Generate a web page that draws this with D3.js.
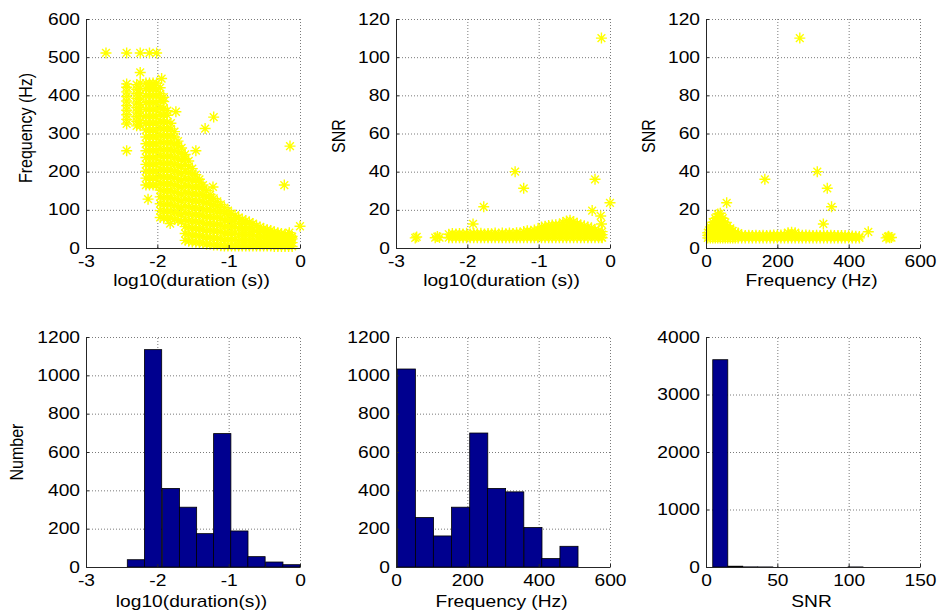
<!DOCTYPE html>
<html lang="en">
<head>
    <meta charset="UTF-8">
    <title>Duration / frequency / SNR</title>
    <script src="https://d3js.org/d3.v7.min.js"></script>
    <style>
        body { margin: 0; background: #fff; }
    </style>
</head>
<body>
    <div id="chart"></div>

    <script>
        // ---- data ----

        // axis ticks
        const durTicks = [-3, -2, -1, 0];
        const freqTicks = [0, 200, 400, 600];
        const snrXTicks = [0, 50, 100, 150];
        const freqYTicks = [0, 100, 200, 300, 400, 500, 600];
        const snrYTicks = [0, 20, 40, 60, 80, 100, 120];
        const countTicks = [0, 200, 400, 600, 800, 1000, 1200];
        const snrCountTicks = [0, 1000, 2000, 3000, 4000];

        // scatter 1: log10(duration) vs frequency, isolated points
        const durFreqOutliers = [[-2.72, 511], [-2.43, 511], [-2.24, 511], [-2.11, 511], [-2.01, 511],
            [-2.24, 460], [-1.94, 444], [-2.43, 255], [-2.13, 128], [-1.74, 357], [-1.33, 313],
            [-1.21, 343], [-1.46, 255], [-1.22, 160], [-1.82, 64], [-0.14, 267], [-0.22, 165],
            [0.0, 57], [-0.15, 40], [-0.12, 28]];
        // scatter 1: dense band, one column of frequencies per duration
        const durFreqCols = [
            [-2.43, [325, 337, 349, 361, 373, 385, 397, 409, 421, 430]],
            [-2.29, [320, 332, 344, 356, 368, 380, 392, 404, 416, 428]],
            [-2.24, [320, 334, 348, 362, 376, 390, 404, 418, 432]],
            [-2.16, [165, 183, 201, 219, 237, 255, 273, 291, 309, 327, 345, 363, 381, 399, 417, 432]],
            [-2.11, [165, 183, 201, 219, 237, 255, 273, 291, 309, 327, 345, 363, 381, 399, 417, 432]],
            [-2.06, [165, 183, 201, 219, 237, 255, 273, 291, 309, 327, 345, 363, 381, 399, 417, 432]],
            [-2.01, [165, 183, 201, 219, 237, 255, 273, 291, 309, 327, 345, 363, 381, 399, 417, 432]],
            [-1.96, [80, 98, 116, 134, 152, 170, 188, 206, 224, 242, 260, 278, 296, 314, 332, 350, 368, 386, 404, 420]],
            [-1.91, [78, 96, 114, 132, 150, 168, 186, 204, 222, 240, 258, 276, 294, 312, 330, 348, 366, 384, 395]],
            [-1.86, [78, 96, 114, 132, 150, 168, 186, 204, 222, 240, 258, 276, 294, 312, 330, 348, 360]],
            [-1.81, [78, 96, 114, 132, 150, 168, 186, 204, 222, 240, 258, 276, 294, 312, 327]],
            [-1.76, [75, 93, 111, 129, 147, 165, 183, 201, 219, 237, 255, 273, 291, 305]],
            [-1.71, [72, 90, 108, 126, 144, 162, 180, 198, 216, 234, 252, 268, 280]],
            [-1.66, [70, 88, 106, 124, 142, 160, 178, 196, 214, 232, 250, 262]],
            [-1.61, [20, 38, 56, 74, 92, 110, 128, 146, 164, 182, 200, 218, 234, 245]],
            [-1.56, [18, 36, 54, 72, 90, 108, 126, 144, 162, 180, 198, 214, 228]],
            [-1.51, [16, 34, 52, 70, 88, 106, 124, 142, 160, 178, 194, 208]],
            [-1.46, [15, 33, 51, 69, 87, 105, 123, 141, 159, 177, 192]],
            [-1.41, [14, 32, 50, 68, 86, 104, 122, 140, 158, 172, 180]],
            [-1.36, [12, 30, 48, 66, 84, 102, 120, 138, 154, 165]],
            [-1.31, [10, 28, 46, 64, 82, 100, 118, 134, 150]],
            [-1.26, [10, 28, 46, 64, 82, 100, 116, 130, 140]],
            [-1.21, [8, 26, 44, 62, 80, 98, 114, 130]],
            [-1.16, [8, 26, 44, 62, 80, 96, 110, 122]],
            [-1.11, [6, 24, 42, 60, 78, 96, 114]],
            [-1.06, [5, 22, 39, 56, 73, 90, 106]],
            [-1.01, [5, 22, 39, 56, 73, 88, 98]],
            [-0.96, [5, 22, 39, 56, 73, 90]],
            [-0.91, [5, 22, 39, 56, 73, 86]],
            [-0.86, [5, 20, 35, 50, 65, 80]],
            [-0.81, [5, 20, 35, 50, 65, 75]],
            [-0.76, [5, 20, 35, 50, 62, 72]],
            [-0.71, [5, 20, 35, 50, 68]],
            [-0.66, [5, 20, 35, 50, 64]],
            [-0.61, [5, 18, 31, 44, 58]],
            [-0.56, [5, 18, 31, 44, 55]],
            [-0.51, [5, 17, 29, 41, 51]],
            [-0.46, [5, 17, 29, 40, 48]],
            [-0.41, [5, 16, 27, 37, 46]],
            [-0.36, [4, 14, 24, 34, 42]],
            [-0.31, [4, 14, 24, 33, 40]],
            [-0.26, [4, 14, 24, 32, 38]],
            [-0.21, [4, 14, 24, 36]],
            [-0.16, [4, 14, 24, 34]],
            [-0.11, [4, 14, 24, 30]]
        ];

        // scatter 2: log10(duration) vs SNR
        const durSnrOutliers = [[-0.12, 110], [-1.33, 40], [-1.21, 31.3], [-1.77, 21.6], [-0.21, 36],
            [0.0, 23.7], [-0.25, 19.6], [-0.13, 16.8], [-0.12, 12.6], [-0.12, 5.6], [-1.92, 12.6],
            [-2.73, 5.3], [-2.71, 5.8], [-2.45, 5.4], [-2.42, 6.0], [-2.39, 5.5]];
        const durSnrCols = [
            [-2.26, [5.4, 7.2]], [-2.21, [5.4, 6.4, 7.6]], [-2.16, [5.4, 7.4]], [-2.11, [5.4, 6.5, 7.6]],
            [-2.06, [5.4, 7.3]], [-2.01, [5.4, 6.4, 7.7]], [-1.96, [5.4, 7.4]], [-1.91, [5.4, 6.5, 7.6]],
            [-1.86, [5.4, 7.5]], [-1.81, [5.4, 6.4, 7.7]], [-1.76, [5.4, 7.4]], [-1.71, [5.4, 6.5, 7.6]],
            [-1.66, [5.4, 7.5]], [-1.61, [5.4, 6.4, 7.8]], [-1.56, [5.4, 7.4]], [-1.51, [5.4, 6.6, 7.8]],
            [-1.46, [5.4, 7.5]], [-1.41, [5.4, 6.5, 7.9]], [-1.36, [5.4, 7.6]], [-1.31, [5.4, 6.6, 8.0]],
            [-1.26, [5.4, 7.8]], [-1.21, [5.4, 6.8, 8.6]], [-1.16, [5.4, 7.2, 9.0]], [-1.11, [5.4, 7.0, 8.8]],
            [-1.06, [5.4, 7.3, 9.4]], [-1.01, [5.4, 7.4, 9.6]], [-0.96, [5.4, 7.4, 9.6, 11.0]],
            [-0.91, [5.4, 7.5, 9.6, 11.4]], [-0.86, [5.4, 7.5, 9.6, 11.8]], [-0.81, [5.4, 7.6, 9.8, 12.0]],
            [-0.76, [5.4, 7.6, 9.8, 12.2]], [-0.71, [5.4, 7.6, 9.8, 12.0]], [-0.66, [5.4, 7.6, 9.8, 12.2, 13.4]],
            [-0.61, [5.4, 7.6, 9.8, 12.0, 14.2]], [-0.56, [5.4, 7.6, 9.8, 12.0, 14.6]],
            [-0.51, [5.4, 7.6, 9.8, 12.0, 13.8]], [-0.46, [5.4, 7.6, 9.8, 11.8, 12.8]],
            [-0.41, [5.4, 7.6, 9.8, 12.0]], [-0.36, [5.4, 7.6, 9.8, 11.6]], [-0.31, [5.4, 7.6, 9.6, 11.0]],
            [-0.26, [5.4, 7.4, 9.4, 10.6]], [-0.21, [5.4, 7.4, 9.4]], [-0.16, [5.4, 7.2, 9.0]],
            [-0.11, [5.4, 7.0, 8.6]]
        ];

        // scatter 3: frequency vs SNR
        const freqSnrOutliers = [[263, 110], [312, 40], [340, 31.3], [352, 21.6], [165, 36], [58, 23.7],
            [329, 12.6], [455, 8.5], [505, 5.3], [510, 5.8], [515, 5.4], [512, 6.2], [520, 5.5]];
        const freqSnrCols = [
            [5, [5.3, 6.6, 8.0]], [12, [5.3, 7.5, 9.7, 11.0]], [19, [5.3, 7.5, 9.7, 11.9, 13.5]],
            [26, [5.3, 7.5, 9.7, 11.9, 14.1, 15.5]], [33, [5.3, 7.5, 9.7, 11.9, 14.1, 16.3, 17.8]],
            [40, [5.3, 7.5, 9.7, 11.9, 14.1, 16.3, 18.2]], [47, [5.3, 7.5, 9.7, 11.9, 14.1, 15.6]],
            [54, [5.3, 7.5, 9.7, 11.9, 13.4]], [61, [5.3, 7.5, 9.7, 11.6]], [68, [5.3, 7.5, 9.5, 10.3]],
            [75, [5.3, 7.2, 8.9]], [82, [5.3, 7.0, 8.2]], [90, [5.3, 6.8, 7.8]],
            [100, [5.3, 6.7]], [110, [5.3, 6.6]], [120, [5.3, 6.7]], [130, [5.3, 6.6]], [140, [5.3, 6.7]],
            [150, [5.3, 6.6]], [160, [5.3, 6.7]], [170, [5.3, 6.6]], [180, [5.3, 6.7]], [190, [5.3, 6.8]],
            [200, [5.3, 6.7]], [210, [5.3, 6.8]], [220, [5.3, 6.9]], [230, [5.3, 6.8, 8.0]],
            [240, [5.3, 6.9, 8.2]], [250, [5.3, 6.8, 8.0]], [260, [5.3, 6.8]], [270, [5.3, 6.7]],
            [280, [5.3, 6.8]], [290, [5.3, 6.7]], [300, [5.3, 6.6]], [310, [5.3, 6.7]], [320, [5.3, 6.6]],
            [330, [5.3, 6.7]], [340, [5.3, 6.6]], [350, [5.3, 6.7]], [360, [5.3, 6.6]], [370, [5.3, 6.6]],
            [380, [5.3, 6.5]], [390, [5.3, 6.5]], [400, [5.3, 6.4]], [410, [5.3, 6.3]], [420, [5.3, 6.2]],
            [430, [5.3, 6.0]]
        ];

        // histograms: bin centres and counts
        const durBins = [-2.30, -2.06, -1.81, -1.57, -1.33, -1.09, -0.85, -0.61, -0.36, -0.12];
        const durCounts = [38, 1134, 410, 312, 174, 696, 188, 54, 26, 12];
        const freqBins = [29, 80, 130, 181, 232, 282, 333, 384, 434, 485];
        const freqCounts = [1033, 258, 162, 312, 699, 410, 392, 206, 44, 108];
        const snrBins = [10.0, 20.5, 31.0, 41.6, 52.1, 62.6, 73.2, 83.7, 94.2, 104.8];
        const snrCounts = [3605, 14, 2, 1, 0, 0, 0, 0, 0, 1];

        // ---- drawing ----
        const width = 937;
        const height = 611;
        const fontFam = "'Liberation Sans', Arial, Helvetica, sans-serif";
        const stretch = 1.2;   // text in the figure is a bit wide
        const axisColor = "#262626";

        const svg = d3.select("#chart")
            .append("svg")
            .attr("width", width)
            .attr("height", height)
            .style("background", "#fff");

        // MATLAB style '*' marker
        const asterisk = {
            draw(ctx, size) {
                const r = Math.sqrt(size) / 2;
                const d = r * 0.7071;
                ctx.moveTo(-r, 0); ctx.lineTo(r, 0);
                ctx.moveTo(0, -r); ctx.lineTo(0, r);
                ctx.moveTo(-d, -d); ctx.lineTo(d, d);
                ctx.moveTo(-d, d); ctx.lineTo(d, -d);
            }
        };
        const markerPath = d3.symbol().type(asterisk).size(121)();

        const flatten = cols => cols.flatMap(([x, ys]) => ys.map(y => [x, y]));

        const panels = [
            { left: 86, top: 19, h: 229, xDomain: [-3, 0], yDomain: [0, 600], xTicks: durTicks, yTicks: freqYTicks,
              xLabel: "log10(duration (s))", yLabel: "Frequency (Hz)", yLabelX: 32, yLabelY: 128, xLabelY: 285.5,
              points: durFreqOutliers.concat(flatten(durFreqCols)) },
            { left: 396, top: 19, h: 229, xDomain: [-3, 0], yDomain: [0, 120], xTicks: durTicks, yTicks: snrYTicks,
              xLabel: "log10(duration (s))", yLabel: "SNR", yLabelX: 345, yLabelY: 136, xLabelY: 285.5,
              points: durSnrOutliers.concat(flatten(durSnrCols)) },
            { left: 706, top: 19, h: 229, xDomain: [0, 600], yDomain: [0, 120], xTicks: freqTicks, yTicks: snrYTicks,
              xLabel: "Frequency (Hz)", yLabel: "SNR", yLabelX: 655, yLabelY: 136, xLabelY: 285.5,
              points: freqSnrOutliers.concat(flatten(freqSnrCols)) },
            { left: 86, top: 337, h: 230, xDomain: [-3, 0], yDomain: [0, 1200], xTicks: durTicks, yTicks: countTicks,
              xLabel: "log10(duration(s))", yLabel: "Number", yLabelX: 23, yLabelY: 452, xLabelY: 606.5,
              bins: durBins, counts: durCounts },
            { left: 396, top: 337, h: 230, xDomain: [0, 600], yDomain: [0, 1200], xTicks: freqTicks, yTicks: countTicks,
              xLabel: "Frequency (Hz)", xLabelY: 606.5,
              bins: freqBins, counts: freqCounts },
            { left: 706, top: 337, h: 230, xDomain: [0, 150], yDomain: [0, 4000], xTicks: snrXTicks, yTicks: snrCountTicks,
              xLabel: "SNR", xLabelY: 606.5,
              bins: snrBins, counts: snrCounts }
        ];

        panels.forEach(p => {
            const w = 214;
            const x = d3.scaleLinear().domain(p.xDomain).range([p.left, p.left + w]);
            const y = d3.scaleLinear().domain(p.yDomain).range([p.top + p.h, p.top]);
            const g = svg.append("g");

            // dotted grid, below the data
            g.append("g")
                .attr("transform", `translate(0,${p.top + p.h})`)
                .call(d3.axisBottom(x).tickValues(p.xTicks).tickSize(-p.h).tickFormat(""))
                .call(s => s.select(".domain").remove())
                .selectAll("line")
                .attr("stroke", "#7a7a7a")
                .attr("stroke-dasharray", "1,2");
            g.append("g")
                .attr("transform", `translate(${p.left},0)`)
                .call(d3.axisLeft(y).tickValues(p.yTicks).tickSize(-w).tickFormat(""))
                .call(s => s.select(".domain").remove())
                .selectAll("line")
                .attr("stroke", "#7a7a7a")
                .attr("stroke-dasharray", "1,2");

            if (p.points) {
                g.append("g")
                    .selectAll("path")
                    .data(p.points)
                    .join("path")
                    .attr("d", markerPath)
                    .attr("transform", d => `translate(${x(d[0])},${y(d[1])})`)
                    .attr("fill", "none")
                    .attr("stroke", "#ffff00")
                    .attr("stroke-width", 1.4);
            }

            if (p.bins) {
                const bw = (p.bins[p.bins.length - 1] - p.bins[0]) / (p.bins.length - 1);
                g.append("g")
                    .selectAll("rect")
                    .data(p.bins.map((c, i) => ({ c, n: p.counts[i] })))
                    .join("rect")
                    .attr("x", d => x(d.c - bw / 2))
                    .attr("width", d => x(d.c + bw / 2) - x(d.c - bw / 2))
                    .attr("y", d => y(d.n))
                    .attr("height", d => y(0) - y(d.n))
                    .attr("fill", "#00008f")
                    .attr("stroke", "#000")
                    .attr("stroke-width", 0.8);
            }

            // axes (left and bottom only)
            const styleAxis = s => {
                s.select(".domain").attr("stroke", axisColor);
                s.selectAll(".tick line").attr("stroke", axisColor);
                s.selectAll("text")
                    .attr("font-family", fontFam)
                    .attr("font-size", 16)
                    .attr("fill", "#000")
                    .attr("transform", `scale(${stretch},1)`);
            };
            g.append("g")
                .attr("transform", `translate(0,${p.top + p.h})`)
                .call(d3.axisBottom(x).tickValues(p.xTicks).tickSizeInner(-3).tickSizeOuter(0)
                    .tickPadding(8).tickFormat(d => String(d)))
                .call(styleAxis);
            g.append("g")
                .attr("transform", `translate(${p.left},0)`)
                .call(d3.axisLeft(y).tickValues(p.yTicks).tickSizeInner(-3).tickSizeOuter(0)
                    .tickPadding(5).tickFormat(d => String(d)))
                .call(styleAxis);

            // axis titles
            g.append("text")
                .attr("transform", `translate(${p.left + w / 2 - 1.5},${p.xLabelY}) scale(${stretch},1)`)
                .attr("text-anchor", "middle")
                .attr("font-family", fontFam)
                .attr("font-size", 16)
                .text(p.xLabel);
            if (p.yLabel) {
                g.append("text")
                    .attr("transform", `translate(${p.yLabelX},${p.yLabelY}) rotate(-90) scale(1,${stretch})`)
                    .attr("text-anchor", "middle")
                    .attr("font-family", fontFam)
                    .attr("font-size", 16)
                    .text(p.yLabel);
            }
        });
    </script>
</body>
</html>
